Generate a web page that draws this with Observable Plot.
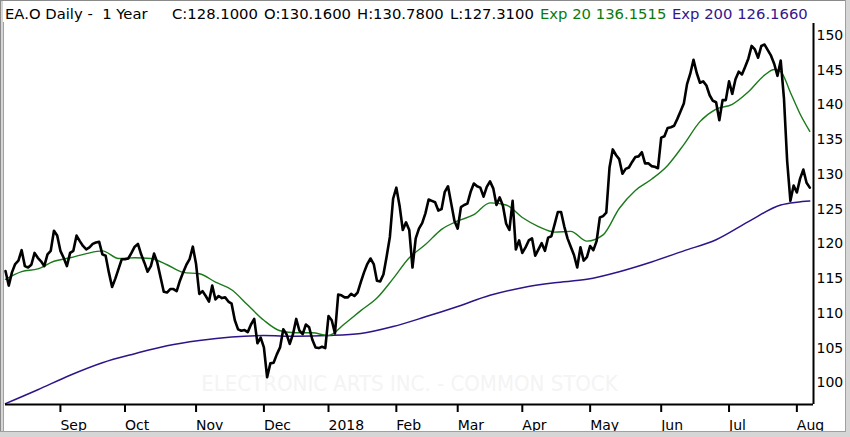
<!DOCTYPE html>
<html><head><meta charset="utf-8">
<script src="https://cdn.jsdelivr.net/npm/d3@7"></script>
<script src="https://cdn.jsdelivr.net/npm/@observablehq/plot@0.6"></script>
<style>
body{margin:0;background:#fff;}
#wrap{position:relative;width:850px;height:437px;overflow:hidden;background:#fff;font-family:"DejaVu Sans",sans-serif;}
.b{position:absolute;}
.t{position:absolute;top:5px;font-size:14.8px;line-height:17px;white-space:pre;color:#000;}
#chart{position:absolute;left:0;top:22px;}
</style></head><body>
<div id="wrap">
  <div id="chart"></div>
  <div class="t" id="t0" style="left:5px">EA.O Daily -  1 Year</div>
  <div class="t" id="t1" style="left:172px">C:128.1000</div>
  <div class="t" id="t2" style="left:264px">O:130.1600</div>
  <div class="t" id="t3" style="left:357px">H:130.7800</div>
  <div class="t" id="t4" style="left:450px">L:127.3100</div>
  <div class="t" id="t5" style="left:540px;color:#0b7a0b">Exp 20 136.1515</div>
  <div class="t" id="t6" style="left:672px;color:#34168c">Exp 200 126.1660</div>
  <div class="b" style="left:0;top:0;width:850px;height:1px;background:#8a8a8a"></div>
  <div class="b" style="left:0;top:0;width:1px;height:437px;background:#8a8a8a"></div>
  <div class="b" style="left:1px;top:1px;width:2px;height:436px;background:#d6d6d6"></div>
  <div class="b" style="left:3px;top:22px;width:1px;height:409px;background:#a0a0a0"></div>
  <div class="b" style="left:0;top:431px;width:850px;height:1px;background:#a0a0a0"></div>
  <div class="b" style="left:0;top:432px;width:850px;height:5px;background:#d6d6d6"></div>
  <div class="b" style="left:845px;top:0;width:1px;height:432px;background:#a0a0a0"></div>
  <div class="b" style="left:846px;top:0;width:4px;height:437px;background:#d6d6d6"></div>
</div>
<script>
const closes = [
116.1,114.0,115.9,117.1,117.6,119.1,116.8,116.6,117.0,118.7,
118.0,117.5,116.8,118.5,119.0,121.9,121.2,119.0,118.0,116.8,
118.7,119.0,121.2,120.4,119.7,119.2,119.5,120.0,120.2,120.3,
118.5,118.3,115.9,113.8,115.0,116.4,117.8,117.8,117.9,118.7,
119.6,120.0,118.5,117.3,116.0,116.8,118.6,117.3,115.2,113.1,
113.0,113.5,113.5,113.2,114.7,115.9,117.0,117.8,119.6,117.1,
112.8,113.2,112.5,111.7,114.0,112.0,112.5,112.2,112.3,111.7,
111.4,109.0,107.7,107.5,107.6,107.3,108.4,109.2,105.7,106.5,
105.1,100.8,102.8,102.9,104.1,105.1,107.7,107.0,105.6,107.0,
109.2,107.5,107.0,108.4,108.0,106.2,105.1,105.0,105.2,105.0,
109.6,109.0,107.1,112.7,112.6,112.3,112.3,112.8,112.5,113.0,
114.5,115.9,117.1,117.9,117.1,114.7,114.6,115.6,118.2,121.0,
126.5,128.1,125.5,122.0,123.1,122.0,116.6,120.8,122.2,123.0,
124.4,126.4,126.2,126.0,124.8,125.0,127.5,128.3,125.8,123.3,
122.2,125.3,125.6,125.8,127.5,128.7,128.3,128.1,126.8,128.2,
129.0,128.0,125.6,126.7,125.5,122.9,122.0,126.2,119.2,120.5,
118.7,119.5,120.5,120.8,118.3,119.2,120.1,119.0,120.9,121.1,
122.8,124.6,124.6,122.5,120.8,119.6,118.4,116.6,119.5,117.6,
118.1,119.7,119.1,120.4,123.8,124.0,124.5,131.0,133.6,132.8,
132.2,130.1,130.8,131.0,131.8,132.5,132.6,133.2,131.6,131.6,
131.2,131.1,130.9,135.3,135.5,136.7,136.8,137.0,138.0,139.1,
140.2,143.0,144.5,146.5,144.6,143.2,143.4,142.8,141.4,140.6,
140.4,137.8,140.7,140.7,143.4,141.6,143.7,144.8,144.4,145.5,
146.7,148.5,148.0,146.8,148.5,148.7,147.9,147.1,145.9,144.2,
146.4,141.0,131.9,126.2,128.4,127.4,129.4,130.7,128.8,128.1
];
const ema20Idx = [0,5,10,15,20,25,30,35,40,45,50,55,60,65,70,75,80,85,90,95,100,105,110,115,120,125,130,135,140,145,150,155,160,165,170,175,180,185,190,195,200,205,210,215,220,225,230,235,238,240,243,246,249];
const ema20 = [114.9,116.0,116.4,117.5,118.0,118.6,119.0,117.9,118.0,117.9,117.0,115.9,115.7,114.5,113.4,111.2,109.0,107.5,107.2,107.2,106.8,108.5,110.4,112.2,115.0,118.0,119.9,122.1,123.3,124.2,125.9,125.6,123.8,122.5,121.7,121.8,120.4,121.3,125.1,127.7,129.3,131.3,134.3,137.6,139.4,140.1,141.9,144.3,145.1,144.8,141.8,138.7,136.2];
const ema200Idx = [0,10,20,30,40,50,60,70,80,90,100,110,120,130,140,150,160,170,180,190,200,210,220,230,240,245,249];
const ema200 = [97.0,99.0,101.1,102.9,104.2,105.35,106.1,106.6,106.8,106.7,106.8,107.1,108.1,109.5,111.0,112.6,113.7,114.4,114.9,116.0,117.4,119.0,120.6,123.2,125.6,126.0,126.17];
const monthIdx = [17,37,59,80,100,121,140,160,181,203,224,245];
const monthLabels = ["Sep","Oct","Nov","Dec","2018","Feb","Mar","Apr","May","Jun","Jul","Aug"];
const yTicks = [100,105,110,115,120,125,130,135,140,145,150];
const watermark = "ELECTRONIC ARTS INC. - COMMON STOCK";

const green = "#1a7a1a", purple = "#2e1488";
const xMax = 250.15, yMin = 96.88, yMax = 151.73;
const priceData = closes.map((v, i) => ({i, v}));
const e20 = ema20Idx.map((i, k) => ({i, v: ema20[k]}));
const e200 = ema200Idx.map((i, k) => ({i, v: ema200[k]}));

const plot = Plot.plot({
  width: 850, height: 415,
  marginLeft: 5, marginRight: 37, marginTop: 1, marginBottom: 33,
  style: {fontFamily: "DejaVu Sans", fontSize: "14px", color: "#000", background: "transparent", overflow: "visible"},
  x: {domain: [0, xMax], axis: null},
  y: {domain: [yMin, yMax], axis: null},
  marks: [
    Plot.text([watermark], {text: d => d, frameAnchor: "bottom", dy: -21, lineAnchor: "middle", fontSize: 22, fontFamily: "DejaVu Sans Condensed", fill: "#f4f4f4"}),
    Plot.line(e200, {x: "i", y: "v", stroke: purple, strokeWidth: 1.5, curve: "monotone-x"}),
    Plot.line(e20, {x: "i", y: "v", stroke: green, strokeWidth: 1.4, curve: "monotone-x"}),
    Plot.line(priceData, {x: "i", y: "v", stroke: "#000", strokeWidth: 2.6, strokeLinejoin: "round"}),
    Plot.axisX(monthIdx, {anchor: "bottom", label: null, tickSize: 8, tickPadding: 8, textAnchor: "start", tickFormat: d => monthLabels[monthIdx.indexOf(d)], strokeWidth: 2, fontSize: 14}),
    Plot.axisY(yTicks, {anchor: "right", label: null, tickSize: 0, tickPadding: 3, fontSize: 14}),
    Plot.ruleY([yMin], {strokeWidth: 2}),
    Plot.ruleX([xMax], {strokeWidth: 2})
  ]
});
document.getElementById("chart").append(plot);
</script>
</body></html>
